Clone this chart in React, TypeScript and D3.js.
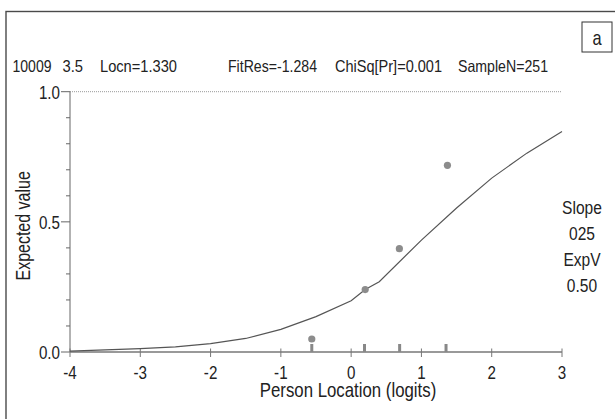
import React from "react";
import * as d3 from "d3";

const curveX = [-4, -3.5, -3, -2.5, -2, -1.5, -1, -0.5, 0, 0.2, 0.4, 1, 1.5, 2, 2.5, 3];
const curveY = [0.003, 0.008, 0.013, 0.02, 0.032, 0.052, 0.087, 0.136, 0.197, 0.24, 0.27, 0.43, 0.553, 0.668, 0.764, 0.847];
const obsX = [-0.56, 0.2, 0.686, 1.37];
const obsY = [0.05, 0.24, 0.397, 0.717];
const rugX = [-0.56, 0.19, 0.69, 1.35];
const xTicks = [-4, -3, -2, -1, 0, 1, 2, 3];
const yMajor = [0, 0.5, 1];
const yMinor = [0.1, 0.2, 0.3, 0.4, 0.6, 0.7, 0.8, 0.9];
const headerParts = [
  { x: 12.5, w: 39, t: "10009" },
  { x: 62.5, w: 20.5, t: "3.5" },
  { x: 100, w: 77, t: "Locn=1.330" },
  { x: 228, w: 89, t: "FitRes=-1.284" },
  { x: 335, w: 107, t: "ChiSq[Pr]=0.001" },
  { x: 458, w: 90, t: "SampleN=251" },
];
const sideText = ["Slope", "025", "ExpV", "0.50"];

const FONT = "'Liberation Sans', Arial, sans-serif";
const SX = 0.82;

function T({ x, y, size, anchor = "start", rotate = 0, children }: any) {
  return (
    <text
      transform={`translate(${x},${y}) rotate(${rotate}) scale(${SX},1)`}
      fontFamily={FONT}
      fontSize={size}
      textAnchor={anchor}
      fill="#222"
    >
      {children}
    </text>
  );
}

export default function App() {
  const x = d3.scaleLinear().domain([-4, 3]).range([70, 562]);
  const y = d3.scaleLinear().domain([0, 1]).range([352, 91.7]);
  const pts = curveX.map((v, i) => [v, curveY[i]] as [number, number]);
  const line = d3.line<[number, number]>().x((d) => x(d[0])).y((d) => y(d[1]));

  return (
    <svg width={615} height={419} style={{ position: "absolute", left: 0, top: 0, background: "#fff" }}>
      <rect x={0} y={0} width={615} height={419} fill="#fff" />
      {/* outer frame */}
      <rect x={6} y={11.5} width={640} height={440} fill="none" stroke="#4a4a4a" strokeWidth={1.4} />
      {/* label box */}
      <rect x={582} y={22} width={30} height={30} fill="#fff" stroke="#333" strokeWidth={1} />
      <T x={597} y={44.5} size={20} anchor="middle">a</T>

      {headerParts.map((p, i) => (
        <text
          key={i}
          x={p.x}
          y={72}
          fontFamily={FONT}
          fontSize={16.5}
          fill="#222"
          textLength={p.w}
          lengthAdjust="spacingAndGlyphs"
        >
          {p.t}
        </text>
      ))}

      {/* dotted 1.0 line */}
      <line x1={x(-4)} x2={x(3)} y1={y(1)} y2={y(1)} stroke="#999" strokeWidth={1} strokeDasharray="1,1" />

      {/* y axis */}
      <line x1={x(-4)} x2={x(-4)} y1={y(1)} y2={y(0)} stroke="#666" strokeWidth={1} />
      {yMajor.map((v) => (
        <g key={v}>
          <line x1={x(-4) - 9} x2={x(-4)} y1={y(v)} y2={y(v)} stroke="#666" strokeWidth={1} />
          <T x={x(-4) - 10} y={y(v) + 6.8} size={18.5} anchor="end">
            {d3.format(".1f")(v)}
          </T>
        </g>
      ))}
      {yMinor.map((v) => (
        <line key={v} x1={x(-4) - 4} x2={x(-4)} y1={y(v)} y2={y(v)} stroke="#666" strokeWidth={1} />
      ))}
      <T x={30} y={(y(0) + y(1)) / 2 + 4} size={19.5} anchor="middle" rotate={-90}>
        Expected value
      </T>

      {/* x axis */}
      <line x1={x(-4)} x2={x(3)} y1={y(0)} y2={y(0)} stroke="#999" strokeWidth={2} />
      {xTicks.map((v) => (
        <g key={v}>
          <line x1={x(v)} x2={x(v)} y1={y(0) - 3.5} y2={y(0) + 5} stroke="#777" strokeWidth={1} />
          <T x={x(v)} y={y(0) + 27} size={18.5} anchor="middle">
            {v}
          </T>
        </g>
      ))}
      <T x={348} y={397} size={20.5} anchor="middle">
        Person Location (logits)
      </T>

      {/* rug */}
      {rugX.map((v, i) => (
        <line key={i} x1={x(v)} x2={x(v)} y1={y(0)} y2={y(0) - 8} stroke="#888" strokeWidth={3} />
      ))}

      {/* curve */}
      <path d={line(pts) || ""} fill="none" stroke="#555" strokeWidth={1.2} />

      {/* observed */}
      {obsX.map((v, i) => (
        <circle key={i} cx={x(v)} cy={y(obsY[i])} r={3.6} fill="#8c8c8c" />
      ))}

      {sideText.map((t, i) => (
        <T key={i} x={582} y={214 + i * 26} size={19} anchor="middle">
          {t}
        </T>
      ))}
    </svg>
  );
}
